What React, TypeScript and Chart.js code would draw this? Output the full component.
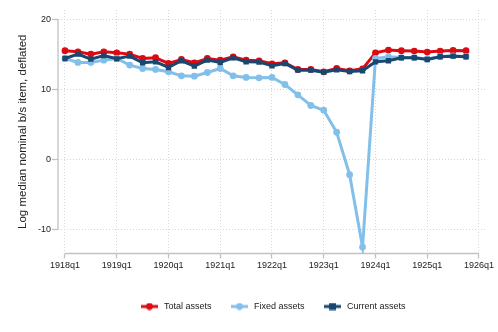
import { useEffect, useRef } from 'react';
import { Chart, registerables } from 'chart.js';

Chart.register(...registerables);

const quarters = [
  '1918q1', '1918q2', '1918q3', '1918q4', '1919q1', '1919q2', '1919q3', '1919q4',
  '1920q1', '1920q2', '1920q3', '1920q4', '1921q1', '1921q2', '1921q3', '1921q4',
  '1922q1', '1922q2', '1922q3', '1922q4', '1923q1', '1923q2', '1923q3', '1923q4',
  '1924q1', '1924q2', '1924q3', '1924q4', '1925q1', '1925q2', '1925q3', '1925q4',
];

const totalAssets = [
  15.48, 15.33, 15.0, 15.33, 15.19, 15.0, 14.38, 14.48,
  13.67, 14.24, 13.76, 14.38, 14.14, 14.62, 14.14, 14.05,
  13.62, 13.76, 12.81, 12.81, 12.48, 12.95, 12.62, 12.9,
  15.19, 15.57, 15.48, 15.43, 15.29, 15.43, 15.52, 15.48,
];

const fixedAssets = [
  14.38, 13.81, 13.81, 14.14, 14.38, 13.43, 12.95, 12.81,
  12.48, 11.9, 11.86, 12.38, 12.95, 11.9, 11.67, 11.62,
  11.67, 10.67, 9.19, 7.67, 7.0, 3.86, -2.19, -12.52,
  14.38, 14.62, 14.5, 14.5, 14.3, 14.65, 14.75, 14.65,
];

const currentAssets = [
  14.38, 15.0, 14.29, 14.81, 14.33, 14.71, 13.76, 13.9,
  13.1, 14.05, 13.29, 14.14, 13.81, 14.48, 13.9, 13.86,
  13.33, 13.67, 12.71, 12.71, 12.43, 12.76, 12.52, 12.62,
  13.9, 14.05, 14.48, 14.48, 14.24, 14.62, 14.71, 14.62,
];

const seriesNames = ['Total assets', 'Fixed assets', 'Current assets'];
const xTickLabels = ['1918q1', '1919q1', '1920q1', '1921q1', '1922q1', '1923q1', '1924q1', '1925q1', '1926q1'];
const yTickValues = [-10, 0, 10, 20];
const yTitle = 'Log median nominal b/s item, deflated';

const RED = '#dc0a12';
const LIGHT = '#82c0ea';
const NAVY = '#1a476f';
const AXIS = '#c2c2c2';
const GRID = '#d6d6d6';
const TEXT = '#222222';
const FONT = "'Liberation Sans', Arial, sans-serif";

function legendIcon(color: string, shape: 'circle' | 'square') {
  const c = document.createElement('canvas');
  c.width = 17;
  c.height = 8;
  const ctx = c.getContext('2d')!;
  ctx.strokeStyle = color;
  ctx.lineWidth = 3;
  ctx.beginPath();
  ctx.moveTo(0, 4);
  ctx.lineTo(17, 4);
  ctx.stroke();
  ctx.fillStyle = color;
  if (shape === 'circle') {
    ctx.beginPath();
    ctx.arc(8.5, 4, 3.4, 0, Math.PI * 2);
    ctx.fill();
  } else {
    ctx.fillRect(5, 0.5, 7, 7);
  }
  return c;
}

const axisLines = {
  id: 'axisLines',
  beforeDatasetsDraw(chart: any) {
    const { ctx, chartArea, scales } = chart;
    const x = scales.x;
    const y = scales.y;
    ctx.save();
    ctx.strokeStyle = AXIS;
    ctx.lineWidth = 1.3;
    ctx.beginPath();
    ctx.moveTo(chartArea.left, y.getPixelForValue(yTickValues[yTickValues.length - 1]));
    ctx.lineTo(chartArea.left, y.getPixelForValue(yTickValues[0]));
    ctx.moveTo(x.getPixelForValue(0), chartArea.bottom);
    ctx.lineTo(x.getPixelForValue((xTickLabels.length - 1) * 4), chartArea.bottom);
    ctx.stroke();
    ctx.restore();
  },
};

export default function App() {
  const ref = useRef<HTMLCanvasElement>(null);

  useEffect(() => {
    const toPts = (arr: number[]) => arr.map((v, i) => ({ x: i, y: v }));
    const icons = [legendIcon(RED, 'circle'), legendIcon(LIGHT, 'circle'), legendIcon(NAVY, 'square')];
    const chart = new Chart(ref.current!, {
      type: 'line',
      data: {
        labels: quarters,
        datasets: [
          {
            label: seriesNames[0],
            data: toPts(totalAssets),
            borderColor: RED,
            backgroundColor: RED,
            borderWidth: 3,
            pointRadius: 3.4,
            pointStyle: 'circle',
            pointBorderWidth: 0,
            order: 3,
          },
          {
            label: seriesNames[1],
            data: toPts(fixedAssets),
            borderColor: LIGHT,
            backgroundColor: LIGHT,
            borderWidth: 3,
            pointRadius: 3.4,
            pointStyle: 'circle',
            pointBorderWidth: 0,
            order: 2,
          },
          {
            label: seriesNames[2],
            data: toPts(currentAssets),
            borderColor: NAVY,
            backgroundColor: NAVY,
            borderWidth: 3,
            pointRadius: 3.8,
            pointStyle: 'rect',
            pointBorderWidth: 0,
            order: 1,
          },
        ],
      },
      options: {
        animation: false,
        responsive: true,
        maintainAspectRatio: false,
        layout: { padding: { top: 10, right: 11, left: 0, bottom: 11 } },
        plugins: {
          tooltip: { enabled: false },
          legend: {
            position: 'bottom',
            fullSize: false,
            labels: {
              usePointStyle: true,
              pointStyleWidth: 20,
              padding: 18,
              color: TEXT,
              font: { family: FONT, size: 9 },
              generateLabels: (ch: any) =>
                ch.data.datasets.map((ds: any, i: number) => ({
                  text: ds.label,
                  pointStyle: icons[i],
                  fillStyle: ds.borderColor,
                  strokeStyle: ds.borderColor,
                  lineWidth: 0,
                  hidden: false,
                  datasetIndex: i,
                  fontColor: TEXT,
                })),
            },
          },
        },
        scales: {
          x: {
            type: 'linear',
            min: -0.541,
            max: 32.62,
            afterBuildTicks: (s: any) => {
              s.ticks = xTickLabels.map((_, i) => ({ value: i * 4 }));
            },
            afterFit: (s: any) => {
              s.height = 30.5;
            },
            ticks: {
              autoSkip: false,
              maxRotation: 0,
              padding: 2,
              color: TEXT,
              font: { family: FONT, size: 9 },
              callback: (v: any) => xTickLabels[Math.round(Number(v) / 4)] ?? '',
            },
            grid: {
              color: GRID,
              lineWidth: 1,
              tickColor: AXIS,
              tickLength: 5,
              tickWidth: 1.3,
              tickBorderDash: [],
              drawTicks: true,
            },
            border: { display: false, dash: [1, 2] },
          },
          y: {
            type: 'linear',
            min: -13.43,
            max: 21.29,
            afterBuildTicks: (s: any) => {
              s.ticks = yTickValues.map((v) => ({ value: v }));
            },
            afterFit: (s: any) => {
              s.width = 58;
            },
            ticks: {
              padding: 1,
              color: TEXT,
              font: { family: FONT, size: 9 },
              callback: (v: any) => String(v),
            },
            grid: {
              color: GRID,
              lineWidth: 1,
              tickColor: AXIS,
              tickLength: 6,
              tickWidth: 1.3,
              tickBorderDash: [],
              drawTicks: true,
            },
            border: { display: false, dash: [1, 2] },
            title: {
              display: true,
              text: yTitle,
              color: TEXT,
              font: { family: FONT, size: 11.5 },
              padding: { top: 16, bottom: 0 },
            },
          },
        },
      },
      plugins: [axisLines],
    });
    return () => chart.destroy();
  }, []);

  return (
    <div style={{ position: 'absolute', left: 0, top: 0, width: 498, height: 332, background: '#fff' }}>
      <canvas ref={ref} />
    </div>
  );
}
